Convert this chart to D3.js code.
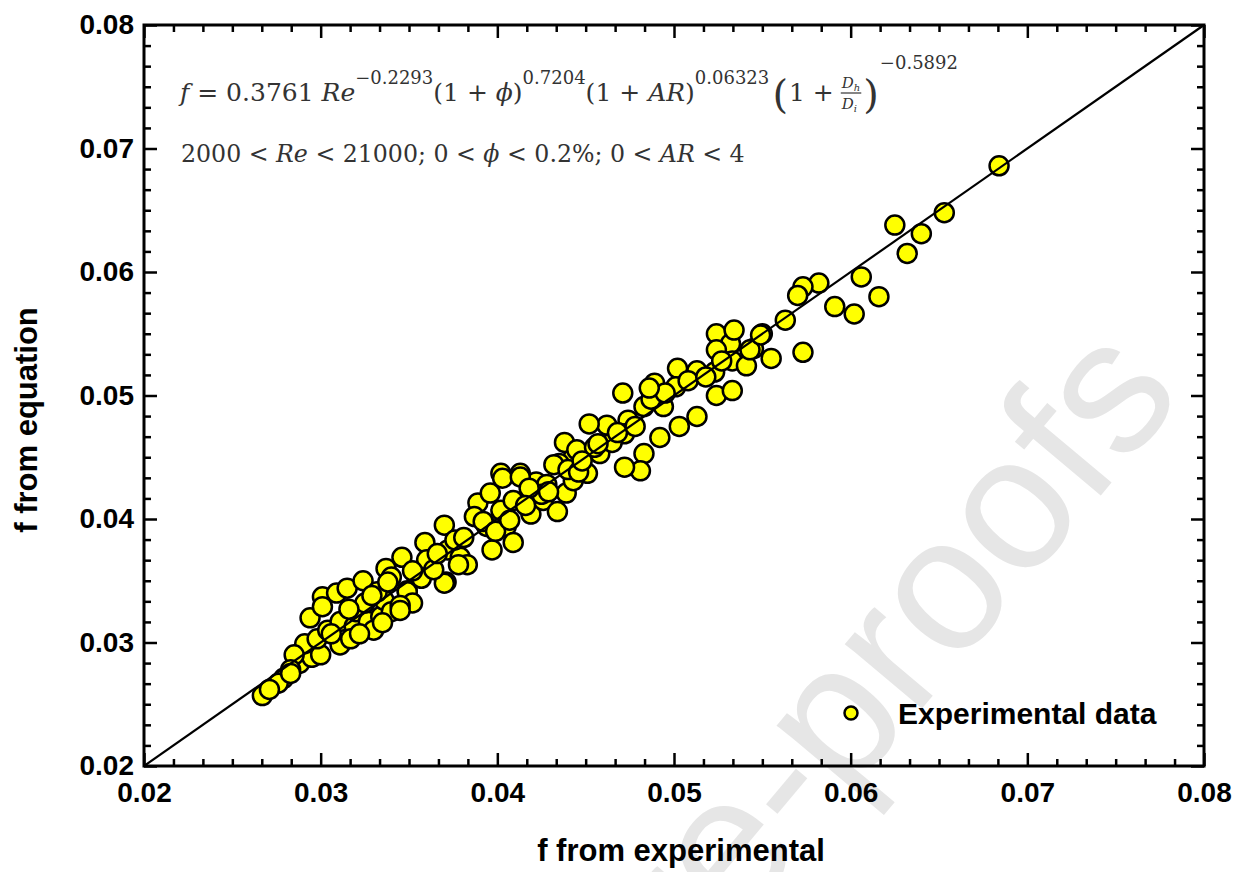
<!DOCTYPE html>
<html><head><meta charset="utf-8">
<script src="https://cdn.jsdelivr.net/npm/d3@7"></script>
<style>body{margin:0;background:#fff;} svg{display:block;}</style>
</head><body><svg id="c" width="1249" height="872"></svg>
<script>
// ---- data ----
const xExp = [0.0684,0.0653,0.0625,0.0640,0.0632,0.0606,0.0582,0.0573,0.0570,0.0616,0.0591,0.0602,0.0563,0.0550,0.0545,0.0555,0.0573,
0.0524,0.0532,0.0524,0.0533,0.0541,0.0543,0.0549,0.0534,0.0502,0.0513,0.0523,0.0524,0.0533,0.0501,0.0489,0.0494,0.0483,0.0503,0.0513,
0.0471,0.0492,0.0483,0.0474,0.0472,0.0481,0.0472,0.0462,0.0458,0.0452,0.0451,0.0443,0.0435,0.0438,0.0422,0.0413,0.0402,
0.0301,0.0309,0.0315,0.0324,0.0337,0.0346,0.0340,0.0349,0.0359,0.0360,0.0371,0.0370,0.0372,0.0379,0.0383,0.0376,0.0389,0.0387,0.0394,
0.0397,0.0396,0.0403,0.0413,0.0405,0.0409,0.0402,0.0409,0.0419,0.0426,0.0434,0.0439,0.0432,0.0443,0.0445,0.0455,
0.0267,0.0279,0.0276,0.0288,0.0295,0.0300,0.0291,0.0298,0.0304,0.0294,0.0301,0.0311,0.0311,0.0319,0.0320,0.0327,0.0325,0.0334,0.0336,
0.0340,0.0332,0.0338,0.0349,0.0352,0.0357,0.0370,0.0364,0.0378,
0.0317,0.0330,0.0345,0.0285,0.0283,0.0428,0.0440,0.0446,0.0425,0.0418,0.0465,0.0468,0.0478,0.0487,0.0495,0.0486,0.0508,0.0518,0.0527,
0.0322,0.0335,0.0345,0.0306,0.0316,0.0329,0.0352,0.0366,0.0381,0.0392,0.0399,0.0407,0.0416,0.0429,0.0448,0.0457,0.0271,0.0283];
const yEq = [0.0686,0.0648,0.0638,0.0631,0.0615,0.0596,0.0591,0.0588,0.0581,0.0580,0.0572,0.0566,0.0561,0.0550,0.0538,0.0530,0.0535,
0.0550,0.0542,0.0537,0.0528,0.0524,0.0537,0.0549,0.0553,0.0522,0.0520,0.0519,0.0500,0.0504,0.0507,0.0510,0.0491,0.0491,0.0475,0.0483,
0.0502,0.0466,0.0453,0.0480,0.0469,0.0439,0.0442,0.0476,0.0453,0.0477,0.0437,0.0450,0.0445,0.0462,0.0430,0.0437,0.0437,
0.0337,0.0340,0.0344,0.0350,0.0360,0.0369,0.0353,0.0342,0.0381,0.0367,0.0349,0.0395,0.0375,0.0369,0.0363,0.0383,0.0413,0.0402,0.0394,
0.0375,0.0421,0.0433,0.0434,0.0394,0.0381,0.0407,0.0415,0.0404,0.0415,0.0406,0.0421,0.0444,0.0431,0.0456,0.0458,
0.0257,0.0271,0.0267,0.0283,0.0288,0.0290,0.0299,0.0303,0.0310,0.0320,0.0329,0.0298,0.0317,0.0313,0.0325,0.0317,0.0332,0.0321,0.0334,
0.0325,0.0341,0.0349,0.0341,0.0332,0.0352,0.0348,0.0359,0.0363,
0.0303,0.0310,0.0330,0.0290,0.0278,0.0428,0.0440,0.0438,0.0420,0.0425,0.0462,0.0470,0.0475,0.0497,0.0502,0.0506,0.0512,0.0515,0.0528,
0.0307,0.0316,0.0326,0.0307,0.0327,0.0338,0.0358,0.0372,0.0385,0.0398,0.0390,0.0399,0.0411,0.0422,0.0447,0.0461,0.0262,0.0275];
const majorTicks = [0.02,0.03,0.04,0.05,0.06,0.07,0.08];
const tickLabels = ["0.02","0.03","0.04","0.05","0.06","0.07","0.08"];
const xTitle = "f from experimental";
const yTitle = "f from equation";
const legendLabel = "Experimental data";
const fitLine = [0.02,0.08];
const rangeLine = "2000 < Re < 21000; 0 < ϕ < 0.2%; 0 < AR < 4";

// ---- layout ----
const svg = d3.select("#c");
const L=144, R=1204, T=25, B=766;
const x = d3.scaleLinear().domain([0.02,0.08]).range([L,R]);
const y = d3.scaleLinear().domain([0.02,0.08]).range([B,T]);
const minor = [];
for (let i=0;i<majorTicks.length-1;i++) for (let k=1;k<6;k++) minor.push(majorTicks[i]+k*0.01/6);

// watermark
svg.append("text").attr("transform","translate(1185,395) rotate(-50)")
  .attr("text-anchor","end").attr("fill","#e6e6e6")
  .style("font-family","'Liberation Sans', Arial, sans-serif").style("font-size","190px")
  .text("Journal Pre-proofs");

// points
const pts = xExp.map((v,i)=>[v,yEq[i]]);
svg.append("g").selectAll("circle").data(pts).join("circle")
  .attr("cx",d=>x(d[0])).attr("cy",d=>y(d[1])).attr("r",9.5)
  .attr("fill","#ffff00").attr("stroke","#000").attr("stroke-width",2.5);

// y = x line
svg.append("line").attr("x1",x(fitLine[0])).attr("y1",y(fitLine[0]))
  .attr("x2",x(fitLine[1])).attr("y2",y(fitLine[1]))
  .attr("stroke","#000").attr("stroke-width",2.2);

// axes
function styleAxis(g){
  g.select(".domain").remove();
  g.selectAll(".tick line").attr("stroke","#000").attr("stroke-width",2.5);
  g.selectAll("text").attr("fill","#000")
   .style("font-family","'Liberation Sans', Arial, sans-serif")
   .style("font-weight","bold").style("font-size","28px");
}
const fmt = (d)=>tickLabels[majorTicks.findIndex(t=>Math.abs(t-d)<1e-9)];
svg.append("g").attr("transform",`translate(0,${B})`)
  .call(d3.axisBottom(x).tickValues(majorTicks).tickSize(-13).tickPadding(16).tickFormat(fmt)).call(styleAxis);
svg.append("g").attr("transform",`translate(0,${B})`)
  .call(d3.axisBottom(x).tickValues(minor).tickSize(-7).tickFormat("")).call(styleAxis);
svg.append("g").attr("transform",`translate(${L},0)`)
  .call(d3.axisLeft(y).tickValues(majorTicks).tickSize(-13).tickPadding(10).tickFormat(fmt)).call(styleAxis);
svg.append("g").attr("transform",`translate(${L},0)`)
  .call(d3.axisLeft(y).tickValues(minor).tickSize(-7).tickFormat("")).call(styleAxis);
svg.append("g").attr("transform",`translate(0,${T})`)
  .call(d3.axisTop(x).tickValues(majorTicks).tickSize(-13).tickFormat("")).call(styleAxis);
svg.append("g").attr("transform",`translate(0,${T})`)
  .call(d3.axisTop(x).tickValues(minor).tickSize(-7).tickFormat("")).call(styleAxis);
svg.append("g").attr("transform",`translate(${R},0)`)
  .call(d3.axisRight(y).tickValues(majorTicks).tickSize(-13).tickFormat("")).call(styleAxis);
svg.append("g").attr("transform",`translate(${R},0)`)
  .call(d3.axisRight(y).tickValues(minor).tickSize(-7).tickFormat("")).call(styleAxis);
svg.append("rect").attr("x",L).attr("y",T).attr("width",R-L).attr("height",B-T)
  .attr("fill","none").attr("stroke","#000").attr("stroke-width",3);

// titles
const bold = (s)=>s.style("font-family","'Liberation Sans', Arial, sans-serif").style("font-weight","bold");
bold(svg.append("text").attr("x",681).attr("y",861).attr("text-anchor","middle")
  .style("font-size","31px").text(xTitle));
bold(svg.append("text").attr("transform","translate(37,420) rotate(-90)").attr("text-anchor","middle")
  .style("font-size","31px").text(yTitle));

// legend
svg.append("circle").attr("cx",851).attr("cy",713).attr("r",6.5)
  .attr("fill","#ffff00").attr("stroke","#000").attr("stroke-width",2.5);
bold(svg.append("text").attr("x",898).attr("y",713).attr("dy","0.36em")
  .style("font-size","30px").text(legendLabel));

// equation
const serif = "'DejaVu Serif', 'Liberation Serif', serif";
function line1(){
  const g = svg.append("g").attr("fill","#333").style("font-family",serif);
  const base = 101, fs = 25, sfs = 18, up = 17;
  const t = g.append("text").attr("x",0).attr("y",base).style("font-size",fs+"px").style("white-space","pre");
  const add=(s,o={})=>{const ts=t.append("tspan").text(s);
    if(o.it) ts.style("font-style","italic");
    if(o.sup) ts.style("font-size",sfs+"px");
    if(o.dy) ts.attr("dy",o.dy); return ts;};
  add("f",{it:1}); add(" = 0.3761 "); add("Re",{it:1});
  add("−0.2293",{sup:1,dy:-up}); add("(1 + ",{dy:up}); add("ϕ",{it:1}); add(")");
  add("0.7204",{sup:1,dy:-up}); add("(1 + ",{dy:up}); add("AR",{it:1}); add(")");
  add("0.06323",{sup:1,dy:-up});
  let cx = t.node().getComputedTextLength() + 3;
  const bp = g.append("text").attr("x",cx).attr("y",base+7).style("font-size","40px").text("(");
  cx += bp.node().getComputedTextLength()+1;
  const one = g.append("text").attr("x",cx).attr("y",base).style("font-size",fs+"px").style("white-space","pre").text("1 + ");
  cx += one.node().getComputedTextLength();
  const ffs=15;
  const num = g.append("text").attr("x",cx).attr("y",base-13).style("font-size",ffs+"px");
  num.append("tspan").style("font-style","italic").text("D");
  num.append("tspan").style("font-size","10px").attr("dy",3).style("font-style","italic").text("h");
  const den = g.append("text").attr("x",cx).attr("y",base+8).style("font-size",ffs+"px");
  den.append("tspan").style("font-style","italic").text("D");
  den.append("tspan").style("font-size","10px").attr("dy",3).style("font-style","italic").text("i");
  const fw = Math.max(num.node().getComputedTextLength(), den.node().getComputedTextLength());
  g.append("line").attr("x1",cx-1).attr("x2",cx+fw+1).attr("y1",base-8).attr("y2",base-8).attr("stroke","#333").attr("stroke-width",1.2);
  cx += fw+3;
  const bp2 = g.append("text").attr("x",cx).attr("y",base+7).style("font-size","40px").text(")");
  cx += bp2.node().getComputedTextLength()+1;
  g.append("text").attr("x",cx).attr("y",base-32).style("font-size",sfs+"px").text("−0.5892");
  const bb = g.node().getBBox();
  const sx = (960-180)/bb.width;
  g.attr("transform",`translate(180,0) scale(${sx},1)`);
}
function line2(){
  const g = svg.append("g").attr("fill","#333").style("font-family",serif);
  const t = g.append("text").attr("x",0).attr("y",162).style("font-size","25px").style("white-space","pre");
  const parts = rangeLine.split(/(Re|ϕ|AR)/);
  parts.forEach(p=>{ if(!p) return; const ts=t.append("tspan").text(p);
    if(p==="Re"||p==="ϕ"||p==="AR") ts.style("font-style","italic"); });
  const bb = g.node().getBBox();
  const sx = (745-181)/bb.width;
  g.attr("transform",`translate(181,0) scale(${sx},1)`);
}
line1(); line2();
</script></body></html>
